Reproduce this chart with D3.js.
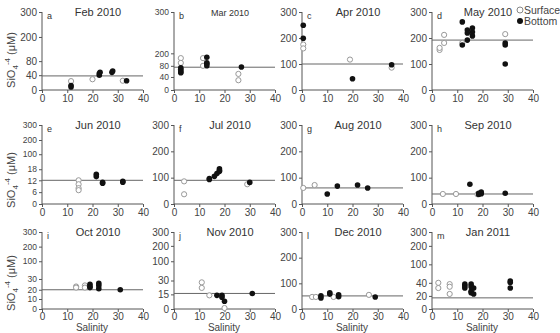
<!DOCTYPE html>
<html><head><meta charset="utf-8">
<script src="https://cdn.jsdelivr.net/npm/d3@7"></script>
<style>body{margin:0;background:#fff}svg{display:block;font-family:Arial,"Liberation Sans",sans-serif}</style>
</head><body><svg id="c" width="560" height="333"></svg>
<script>
// ---------- DATA ----------
const months = ["Feb 2010","Mar 2010","Apr 2010","May 2010","Jun 2010","Jul 2010","Aug 2010","Sep 2010","Oct 2010","Nov 2010","Dec 2010","Jan 2011"];
const letters = ["a","b","c","d","e","f","g","h","i","j","l","m"];
const xTicks = [0,10,20,30,40];
const yTickLabels = [
  [0,40,80,200,300],[0,40,80,200,300],[0,100,200,300],[0,100,200,300],
  [0,6,12,18,100,200,300],[0,100,200,300],[0,100,200,300],[0,100,200,300],
  [0,10,20,30,100,200,300],[0,15,30,100,200,300],[0,100,200,300],[0,20,40,100,200,300]
];
const refLines = [38,75,100,192,12,90,61,38,20,16,51,17];
// [salinity, SiO4 µM]
const surfaceFeb = [[11.5,24],[20,29],[32,25]];
const bottomFeb  = [[11.5,8],[11.5,12],[22.7,40],[22.7,45],[23,48],[27.7,48],[28,52],[33.5,25]];
const surfaceMar = [[2.7,154],[2.7,108],[2.7,66],[11.5,154],[11.5,80],[25.5,51],[25.5,30]];
const bottomMar  = [[2.7,73],[2.7,66],[2.7,58],[2.7,55],[13,163],[13,108],[13,100],[13,80],[26.7,76]];
const surfaceApr = [[0.5,175],[0.5,160],[19,117],[35.5,86]];
const bottomApr  = [[0.5,249],[0.5,199],[20,43],[35.5,97]];
const surfaceMay = [[3,154],[3,162],[4.8,212],[4.8,181],[12,181],[29,215]];
const bottomMay  = [[12,262],[12,173],[14,231],[14,219],[14,192],[16,238],[16,223],[16,208],[29,181],[29,173],[29,100]];
const surfaceJun = [[14.5,12],[14.5,10],[14.5,8],[14.5,7]];
const bottomJun  = [[21.5,15.3],[21.5,14],[24,11],[24,10.5],[32,11.5],[32,11]];
const surfaceJul = [[4,86],[4,37],[29,75]];
const bottomJul  = [[14,97],[14,93],[16,105],[17,116],[18,124],[18,134],[18,128],[30,82]];
const surfaceAug = [[0.5,61],[5,72]];
const bottomAug  = [[10,38],[14,68],[22,72],[26,61]];
const surfaceSep = [[4.3,38],[9.5,38],[18,37]];
const bottomSep  = [[15,75],[18.5,41],[18.5,36],[19.5,45],[19.5,39],[29,41]];
const surfaceOct = [[13.5,23],[13.5,22],[17,24],[17,22]];
const bottomOct  = [[19,25],[19,23],[19,22],[22.5,26],[22.5,24],[22.5,21],[31,20]];
const surfaceNov = [[11,28],[11,22],[14,14],[20,1]];
const bottomNov  = [[17,14],[19,14],[19,12],[20,8],[31,16]];
const surfaceDec = [[4,47],[5.5,47],[12.5,47],[26.5,55]];
const bottomDec  = [[7.5,51],[7.5,43],[11,58],[11,63],[14.5,55],[14.5,48],[29,47]];
const surfaceJan = [[2.5,40],[2.5,32],[7,38],[7,34],[7,23]];
const bottomJan  = [[13,38],[13,35],[13,32],[15.5,38],[15.5,34],[15.5,27],[15.5,25],[16.5,23],[16.5,32],[31,46],[31,41],[31,32]];
const surfaces = [surfaceFeb,surfaceMar,surfaceApr,surfaceMay,surfaceJun,surfaceJul,surfaceAug,surfaceSep,surfaceOct,surfaceNov,surfaceDec,surfaceJan];
const bottoms  = [bottomFeb,bottomMar,bottomApr,bottomMay,bottomJun,bottomJul,bottomAug,bottomSep,bottomOct,bottomNov,bottomDec,bottomJan];

// ---------- LAYOUT ----------
const colX = [42,174,302,432];
const plotW = 101;
const rowTop = [12,125,232];
const rowBot = [90,204,309];
const yFrac = [
  [0,.19,.37,.68,1],[0,.167,.31,.47,1],null,null,
  [0,.15,.30,.44,.63,.81,1],null,null,null,
  [0,.13,.25,.39,.62,.81,1],[0,.19,.37,.62,.82,1],null,[0,.17,.34,.58,.82,1]
];
const svg = d3.select("#c");
const axisCol = "#555";

months.forEach((m,i)=>{
  const r = Math.floor(i/4), c = i%4;
  const x0 = colX[c], top = rowTop[r], bot = rowBot[r];
  const ticks = yTickLabels[i];
  const fr = yFrac[i] || ticks.map(t=>t/300);
  const x = d3.scaleLinear().domain([0,40]).range([x0, x0+plotW]);
  const y = d3.scaleLinear().domain(ticks).range(fr.map(f=>bot-(bot-top)*f));
  const g = svg.append("g");
  const minGap = d3.min(d3.pairs(ticks.map(y)), p=>Math.abs(p[0]-p[1]));

  const ya = g.append("g").attr("transform",`translate(${x0},0)`)
    .call(d3.axisLeft(y).tickValues(ticks).tickSize(3).tickPadding(2).tickFormat(d3.format("d")));
  const xa = g.append("g").attr("transform",`translate(0,${bot})`)
    .call(d3.axisBottom(x).tickValues(xTicks).tickSize(3).tickPadding(r===2 ? 1 : 2));
  [ya,xa].forEach(a=>{
    a.selectAll("path,line").attr("stroke",axisCol);
    a.selectAll("text").attr("fill","#444").style("font-size","10px");
    a.select(".domain").attr("d", a===ya ? `M0,${top}V${bot}` : `M${x0},0H${x0+plotW}`);
  });
  if(minGap < 11.5) ya.selectAll("text").style("font-size","8.5px");

  g.append("line").attr("x1",x(0)).attr("x2",x(40)).attr("y1",y(refLines[i])).attr("y2",y(refLines[i]))
    .attr("stroke","#666").attr("stroke-width",1);

  g.selectAll("circle.s").data(surfaces[i]).join("circle").attr("class","s")
    .attr("cx",d=>x(d[0])).attr("cy",d=>y(d[1])).attr("r",2.6)
    .attr("fill","#fff").attr("stroke","#999").attr("stroke-width",1);
  g.selectAll("circle.b").data(bottoms[i]).join("circle").attr("class","b")
    .attr("cx",d=>x(d[0])).attr("cy",d=>y(d[1])).attr("r",2.8)
    .attr("fill","#111");

  g.append("text").attr("x",x0+5).attr("y",top+7).text(letters[i])
    .style("font-size","9px").attr("fill","#333");
  g.append("text").attr("x",x0+56).attr("y",top+4).attr("text-anchor","middle")
    .text(m).style("font-size", i===1 ? "9px" : "11px").attr("fill","#333");

  if(c===0){
    const t = g.append("text").attr("transform",`translate(15,${[60,180,283][r]}) rotate(-90)`)
      .attr("text-anchor","middle").style("font-size","11px").attr("fill","#444");
    t.append("tspan").text("SiO");
    t.append("tspan").text("4").style("font-size","8px").attr("dy","3");
    t.append("tspan").text("-4").style("font-size","8px").attr("dy","-8");
    t.append("tspan").text(" (μM)").attr("dy","5");
  }
  if(r===2){
    g.append("text").attr("x",x0+50).attr("y",331).attr("text-anchor","middle")
      .text("Salinity").style("font-size","10px").attr("fill","#444");
  }
});

// legend (clipped at the right edge, as in the original)
const lg = svg.append("g");
lg.append("circle").attr("cx",520).attr("cy",10).attr("r",3).attr("fill","#fff").attr("stroke","#888");
lg.append("text").attr("x",524).attr("y",14).text("Surface").style("font-size","10.5px").attr("fill","#444");
lg.append("circle").attr("cx",520).attr("cy",21).attr("r",3).attr("fill","#111");
lg.append("text").attr("x",524).attr("y",25).text("Bottom").style("font-size","10.5px").attr("fill","#444");
</script></body></html>
